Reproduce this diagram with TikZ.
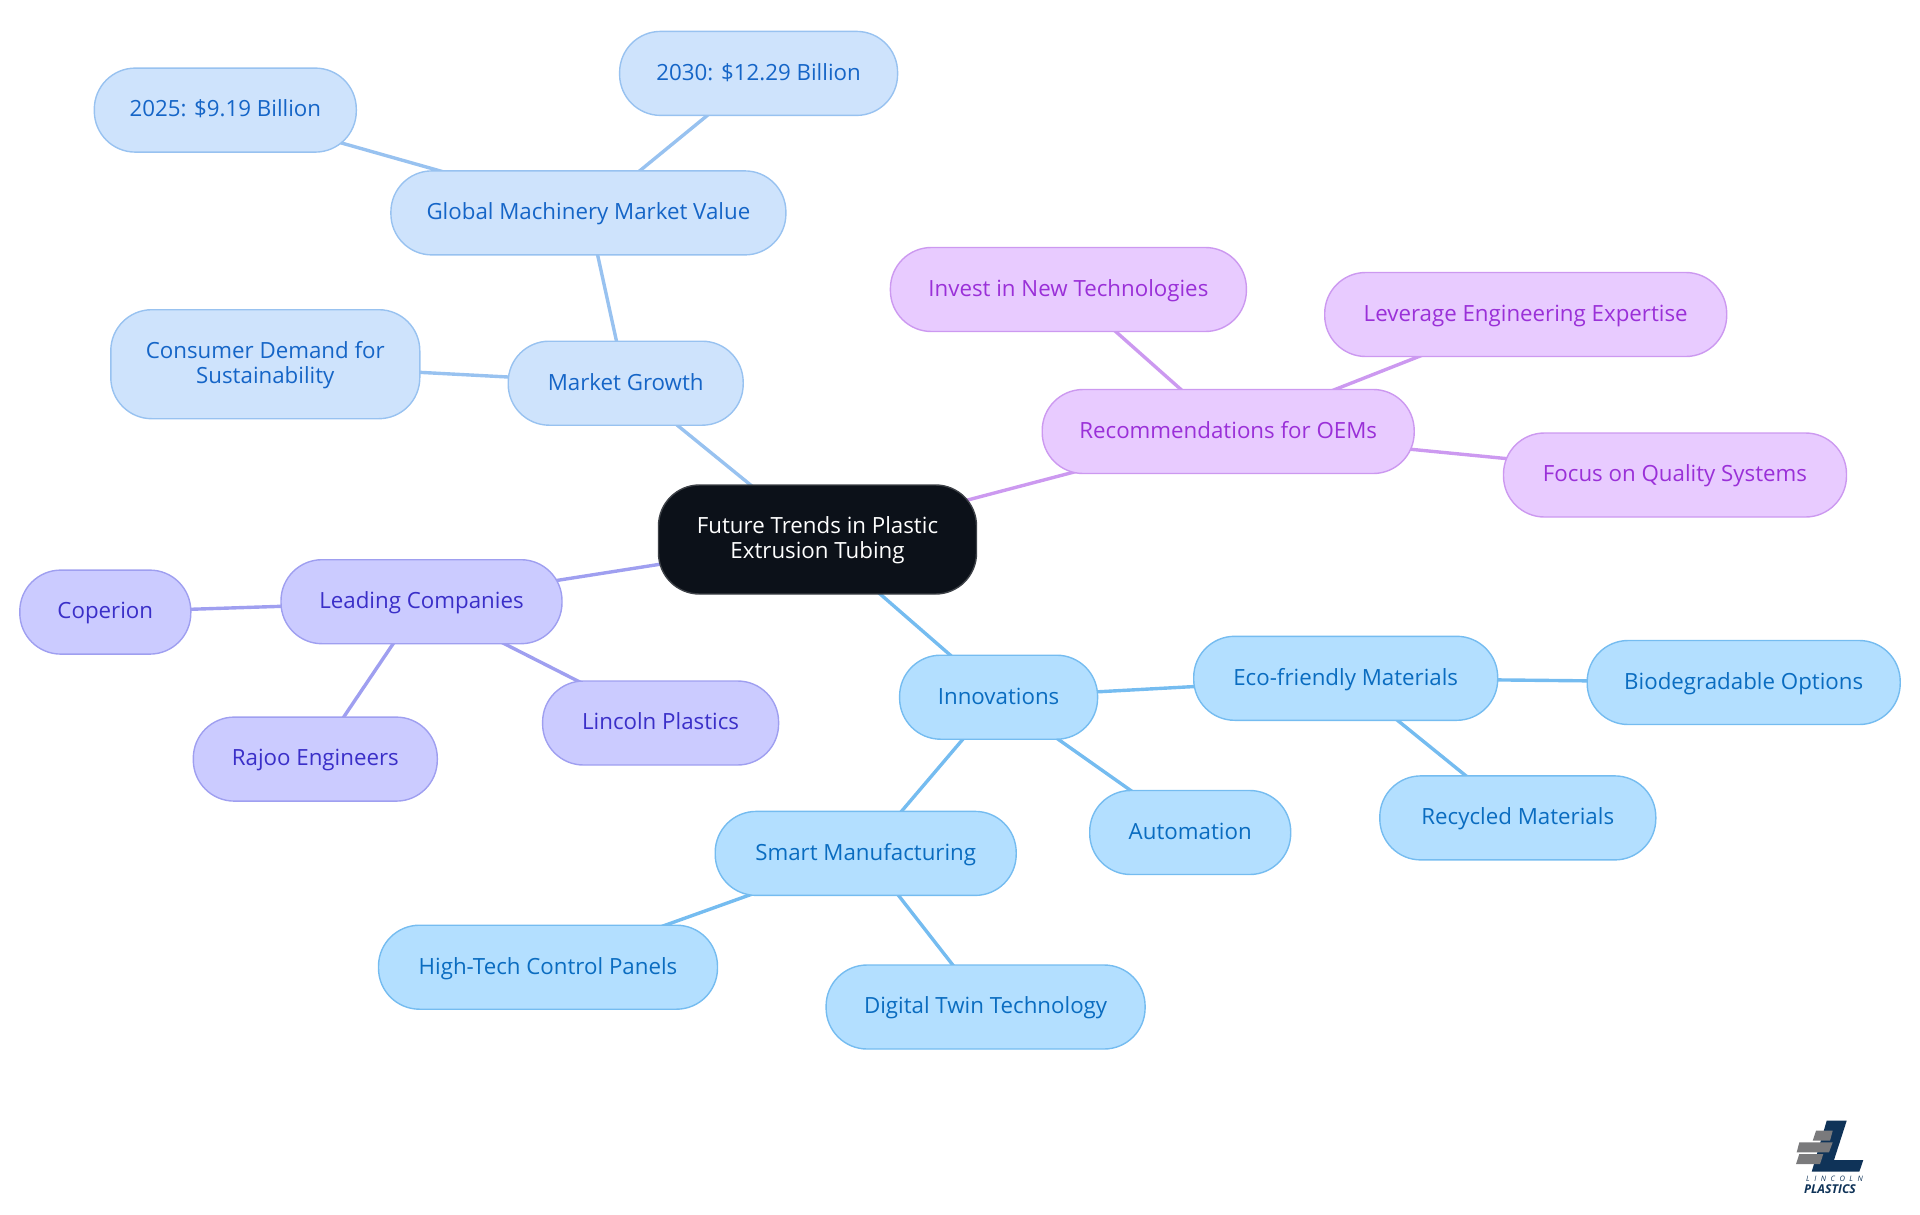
\documentclass[tikz,border=0pt]{standalone}
\usepackage{fontspec}
\usepackage{xcolor}
\usetikzlibrary{backgrounds}
\setmainfont{Open Sans}
\definecolor{rootfill}{HTML}{0C1119}
\definecolor{bluefill}{HTML}{CEE3FC}
\definecolor{blueline}{HTML}{98C2F0}
\definecolor{bluetext}{HTML}{1565C7}
\definecolor{skyfill}{HTML}{B3DFFF}
\definecolor{skyline}{HTML}{75BCF0}
\definecolor{skytext}{HTML}{0A6CC0}
\definecolor{purplefill}{HTML}{E8CBFF}
\definecolor{purpleline}{HTML}{CC99F0}
\definecolor{purpletext}{HTML}{9A30D8}
\definecolor{indigofill}{HTML}{CBCBFF}
\definecolor{indigoline}{HTML}{9F9FF0}
\definecolor{indigotext}{HTML}{3A2FC8}
\definecolor{logonavy}{HTML}{0F3358}
\definecolor{logogrey}{HTML}{7A7A7C}

\begin{document}
\begin{tikzpicture}[x=1pt, y=-1pt,
    every node/.style={rectangle, rounded corners=41pt, line width=1.4pt, minimum height=84pt,
        inner sep=0pt, align=center, text height=17.5pt, text depth=3.9pt, font=\fontsize{22.3}{25}\selectfont},
    twoline/.style={minimum height=109pt, text height=43pt, text depth=3.9pt},
    rootbox/.style={twoline, text height=41pt, draw=rootfill!80!white, fill=rootfill, text=white},
    bluebox/.style={draw=blueline, fill=bluefill, text=bluetext},
    skybox/.style={draw=skyline, fill=skyfill, text=skytext},
    purplebox/.style={draw=purpleline, fill=purplefill, text=purpletext},
    indigobox/.style={draw=indigoline, fill=indigofill, text=indigotext},
    logotext/.style={rectangle, rounded corners=0pt, minimum height=0pt, text height=, text depth=, text=logonavy}]
    \useasboundingbox (0,0) rectangle (1920,1215);

    \node[rootbox, minimum width=318pt] (root) at (817.5,539.5) {Future Trends in Plastic\\Extrusion Tubing};

    \node[bluebox, minimum width=235pt] (growth) at (625.7,383.2) {Market Growth};
    \node[bluebox, minimum width=395pt] (machinery) at (588.4,212.9) {Global Machinery Market Value};
    \node[bluebox, minimum width=262pt] (y2025) at (225.3,110.1) {2025: \$9.19 Billion};
    \node[bluebox, minimum width=278pt] (y2030) at (758.6,73.4) {2030: \$12.29 Billion};
    \node[bluebox, twoline, minimum width=309pt] (demand) at (265.3,364.2) {Consumer Demand for\\Sustainability};

    \node[purplebox, minimum width=372pt] (oems) at (1228.2,431.5) {Recommendations for OEMs};
    \node[purplebox, minimum width=356pt] (invest) at (1068.4,289.5) {Invest in New Technologies};
    \node[purplebox, minimum width=402pt] (leverage) at (1525.7,314.5) {Leverage Engineering Expertise};
    \node[purplebox, minimum width=343pt] (quality) at (1675,475) {Focus on Quality Systems};

    \node[indigobox, minimum width=281pt] (leading) at (421.5,601.7) {Leading Companies};
    \node[indigobox, minimum width=171pt] (coperion) at (105.3,612.1) {Coperion};
    \node[indigobox, minimum width=244pt] (rajoo) at (315.3,759.1) {Rajoo Engineers};
    \node[indigobox, minimum width=236pt] (lincoln) at (660.6,723) {Lincoln Plastics};

    \node[skybox, minimum width=198pt] (innov) at (998.6,697.2) {Innovations};
    \node[skybox, minimum width=304pt] (eco) at (1345.7,678.3) {Eco-friendly Materials};
    \node[skybox, minimum width=313pt] (biodeg) at (1743.7,682.5) {Biodegradable Options};
    \node[skybox, minimum width=276pt] (recycled) at (1517.8,817.9) {Recycled Materials};
    \node[skybox, minimum width=201pt] (auto) at (1190.2,832.5) {Automation};
    \node[skybox, minimum width=301pt] (smart) at (865.7,853.4) {Smart Manufacturing};
    \node[skybox, minimum width=339pt] (panels) at (548,967.2) {High-Tech Control Panels};
    \node[skybox, minimum width=319pt] (twin) at (985.6,1007) {Digital Twin Technology};

    \begin{scope}[on background layer]
        \foreach \a/\b in {root/growth, growth/machinery, machinery/y2025, machinery/y2030, growth/demand}
            \draw[blueline, line width=3.4pt] (\a.center) -- (\b.center);
        \foreach \a/\b in {root/oems, oems/invest, oems/leverage, oems/quality}
            \draw[purpleline, line width=3.4pt] (\a.center) -- (\b.center);
        \foreach \a/\b in {root/leading, leading/coperion, leading/rajoo, leading/lincoln}
            \draw[indigoline, line width=3.4pt] (\a.center) -- (\b.center);
        \foreach \a/\b in {root/innov, innov/eco, eco/biodeg, eco/recycled, innov/auto, innov/smart, smart/panels, smart/twin}
            \draw[skyline, line width=3.4pt] (\a.center) -- (\b.center);
    \end{scope}

    % logo
    \fill[logonavy] (1826.7,1120.7) -- (1846.7,1120.7) -- (1834,1160) -- (1863.3,1160) -- (1859.3,1171.7) -- (1811.7,1171.7) -- cycle;
    \fill[logogrey] (1816,1130.7) -- (1832.7,1130.7) -- (1830,1140.7) -- (1812.7,1140.7) -- cycle;
    \fill[logogrey] (1799.3,1142.3) -- (1832.7,1142.3) -- (1829,1152.3) -- (1796.7,1152.3) -- cycle;
    \fill[logogrey] (1799.3,1154) -- (1823.3,1154) -- (1820,1164) -- (1796,1164) -- cycle;
    \node[logotext, font=\fontsize{7.5}{8}\itshape\addfontfeature{LetterSpace=60}] (logoa) at (1834.5,1178.7) {LINCOLN};
    \node[logotext, font=\fontsize{12.2}{14}\bfseries\itshape] (logob) at (1830,1188.7) {PLASTICS};
\end{tikzpicture}
\end{document}
